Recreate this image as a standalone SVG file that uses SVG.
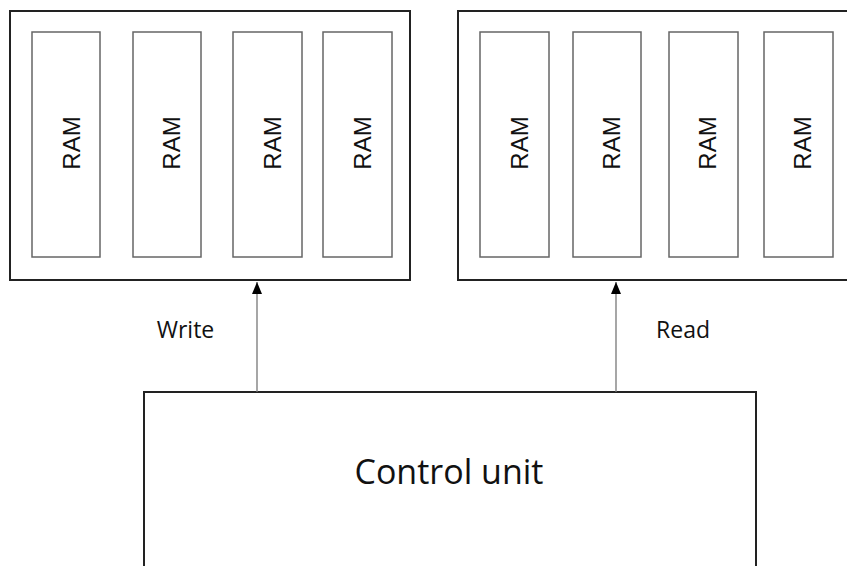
<svg xmlns="http://www.w3.org/2000/svg" width="847" height="566" viewBox="0 0 847 566">
<style>
.outer{fill:#fff;stroke:#222;stroke-width:2}
.ram{fill:#fff;stroke:#666;stroke-width:1.5}
.ramt{font-family:"Liberation Sans",Arial,sans-serif;font-size:24px;fill:#111;text-anchor:middle}
.lbl{font-family:"Open Sans","DejaVu Sans",sans-serif;font-size:23px;fill:#111;text-anchor:middle}
.cu{font-family:"Open Sans","DejaVu Sans",sans-serif;font-size:34px;fill:#111;text-anchor:middle}
.conn{stroke:#777;stroke-width:1.3;fill:none}
</style>
<defs>
<marker id="arr" viewBox="0 0 12 10" refX="12" refY="5" markerWidth="12" markerHeight="10" markerUnits="userSpaceOnUse" orient="auto">
<path d="M0,0 L12,5 L0,10 Z" fill="#000"/>
</marker>
</defs>
<rect width="847" height="566" fill="#fff"/>
<g id="write-bank">
<rect class="outer" x="10" y="11" width="400" height="269"/>
<g id="ram-w1"><rect class="ram" x="32" y="32" width="68" height="225"/><text class="ramt" transform="translate(79.5,143) rotate(-90)">RAM</text></g>
<g id="ram-w2"><rect class="ram" x="133" y="32" width="68" height="225"/><text class="ramt" transform="translate(180,143) rotate(-90)">RAM</text></g>
<g id="ram-w3"><rect class="ram" x="233" y="32" width="69" height="225"/><text class="ramt" transform="translate(281,143) rotate(-90)">RAM</text></g>
<g id="ram-w4"><rect class="ram" x="323" y="32" width="69" height="225"/><text class="ramt" transform="translate(371,143) rotate(-90)">RAM</text></g>
</g>
<g id="read-bank">
<rect class="outer" x="458" y="11" width="400" height="269"/>
<g id="ram-r1"><rect class="ram" x="480" y="32" width="69" height="225"/><text class="ramt" transform="translate(528,143) rotate(-90)">RAM</text></g>
<g id="ram-r2"><rect class="ram" x="573" y="32" width="68" height="225"/><text class="ramt" transform="translate(620,143) rotate(-90)">RAM</text></g>
<g id="ram-r3"><rect class="ram" x="669" y="32" width="69" height="225"/><text class="ramt" transform="translate(716,143) rotate(-90)">RAM</text></g>
<g id="ram-r4"><rect class="ram" x="764" y="32" width="69" height="225"/><text class="ramt" transform="translate(811,143) rotate(-90)">RAM</text></g>
</g>
<g id="control-unit">
<rect class="outer" x="144" y="392" width="612" height="200"/>
<text class="cu" x="449" y="484">Control unit</text>
</g>
<g id="connectors">
<line class="conn" x1="257" y1="392" x2="257" y2="282" marker-end="url(#arr)"/>
<line class="conn" x1="616" y1="392" x2="616" y2="282" marker-end="url(#arr)"/>
<text class="lbl" x="185.5" y="338">Write</text>
<text class="lbl" x="683" y="338">Read</text>
</g>
</svg>
